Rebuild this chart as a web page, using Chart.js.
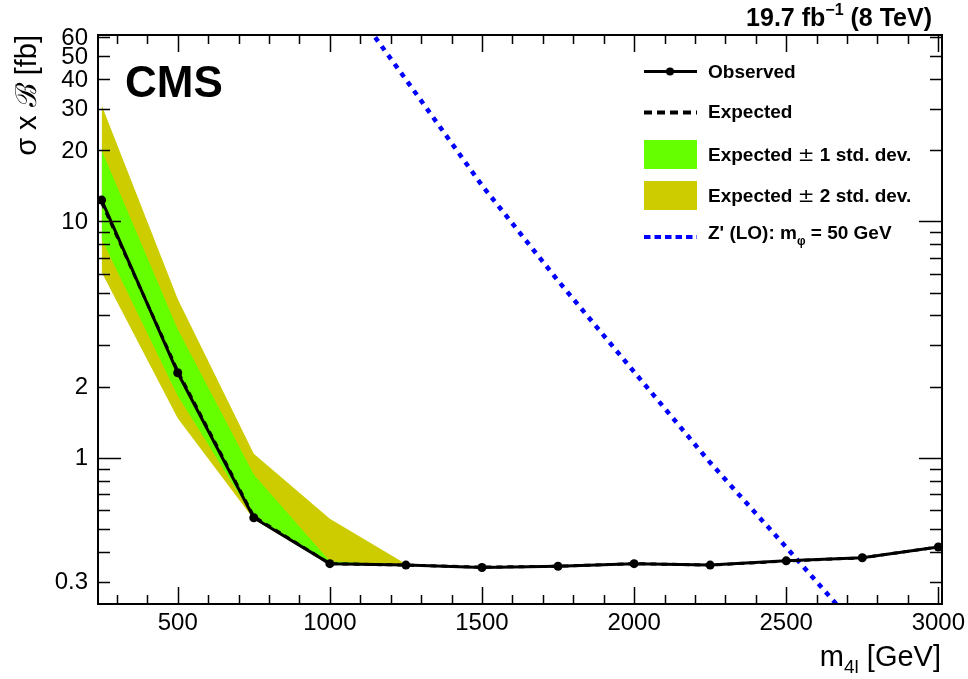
<!DOCTYPE html>
<html>
<head>
<meta charset="utf-8">
<script src="https://cdn.jsdelivr.net/npm/chart.js@4.4.1/dist/chart.umd.min.js"></script>
<style>
  html, body { margin: 0; padding: 0; background: #fff; }
  #wrap { width: 968px; height: 679px; }
</style>
</head>
<body>
<div id="wrap"><canvas id="limit-chart" width="968" height="679"></canvas></div>
<script>
// mass points [GeV]
var masses = [250, 500, 750, 1000, 1250, 1500, 1750, 2000, 2250, 2500, 2750, 3000];
var observed = [12.3, 2.29, 0.558, 0.357, 0.352, 0.344, 0.348, 0.357, 0.352, 0.367, 0.378, 0.42];
var expected = [12.0, 2.33, 0.565, 0.357, 0.352, 0.345, 0.348, 0.357, 0.352, 0.366, 0.378, 0.42];
var band1_lo = [8.4, 1.83, 0.56, 0.355, 0.352, 0.345, 0.348, 0.357, 0.352, 0.366, 0.378, 0.42];
var band1_hi = [20.0, 3.5, 0.85, 0.365, 0.352, 0.345, 0.348, 0.357, 0.352, 0.366, 0.378, 0.42];
var band2_lo = [6.1, 1.47, 0.55, 0.352, 0.352, 0.345, 0.348, 0.357, 0.352, 0.366, 0.378, 0.42];
var band2_hi = [31.0, 4.7, 1.04, 0.553, 0.356, 0.345, 0.348, 0.357, 0.352, 0.366, 0.378, 0.42];
// Z' (LO) m_phi = 50 GeV theory curve
var zprime_mass = [1000, 1250, 1500, 1750, 2000, 2250, 2500, 2750];
var zprime_xsec = [110, 39.8, 14.2, 5.61, 2.31, 0.955, 0.419, 0.181];

var x_tick_labels = [500, 1000, 1500, 2000, 2500, 3000];
var y_tick_labels = [0.3, 1, 2, 10, 20, 30, 40, 50, 60];

const GREEN = 'rgb(102, 255, 0)';
const YELLOW = 'rgb(204, 204, 0)';
const BLUE = 'rgb(0, 0, 255)';
const FONT = '"Liberation Sans", Arial, Helvetica, sans-serif';

function pts(xs, ys) {
  return xs.map(function (m, i) { return { x: m, y: ys[i] }; });
}

function band(data, fill, color, order) {
  return {
    data: data, fill: fill, backgroundColor: color, borderWidth: 0,
    pointRadius: 0, tension: 0, order: order
  };
}

// draws pieces of text with own font / vertical shift, one after another
function richText(ctx, parts, x, y, align) {
  var w = 0;
  parts.forEach(function (p) { ctx.font = p.font; w += ctx.measureText(p.t).width; });
  var cx = align === 'right' ? x - w : x;
  ctx.textAlign = 'left';
  ctx.textBaseline = 'alphabetic';
  parts.forEach(function (p) {
    ctx.font = p.font;
    ctx.fillText(p.t, cx, y + (p.dy || 0));
    cx += ctx.measureText(p.t).width;
  });
}

const rootFrame = {
  id: 'rootFrame',
  afterDraw(chart) {
    const ctx = chart.ctx;
    const a = chart.chartArea;
    const xs = chart.scales.x, ys = chart.scales.y;
    ctx.save();
    ctx.strokeStyle = '#000';
    ctx.fillStyle = '#000';
    ctx.lineWidth = 2;
    ctx.strokeRect(a.left, a.top, a.right - a.left, a.bottom - a.top);

    // x ticks, inward, bottom and top
    ctx.lineWidth = 1.5;
    ctx.beginPath();
    for (let m = 300; m <= 3000; m += 100) {
      const px = Math.round(xs.getPixelForValue(m)) + 0.5;
      const len = m % 500 === 0 ? 17 : 9;
      ctx.moveTo(px, a.bottom); ctx.lineTo(px, a.bottom - len);
      ctx.moveTo(px, a.top); ctx.lineTo(px, a.top + len);
    }
    // y ticks, log
    for (let d = -1; d <= 1; d++) {
      for (let k = 1; k <= 9; k++) {
        const v = k * Math.pow(10, d);
        if (v < ys.min || v > ys.max) continue;
        const py = Math.round(ys.getPixelForValue(v)) + 0.5;
        const len = k === 1 ? 23 : 12;
        ctx.moveTo(a.left, py); ctx.lineTo(a.left + len, py);
        ctx.moveTo(a.right, py); ctx.lineTo(a.right - len, py);
      }
    }
    ctx.stroke();

    // tick labels
    ctx.font = '24px ' + FONT;
    ctx.textAlign = 'center';
    ctx.textBaseline = 'alphabetic';
    x_tick_labels.forEach(function (m) {
      ctx.fillText(String(m), xs.getPixelForValue(m), 630);
    });
    ctx.textAlign = 'right';
    ctx.textBaseline = 'middle';
    y_tick_labels.forEach(function (v) {
      ctx.fillText(String(v), 88, ys.getPixelForValue(v) + 1);
    });

    // axis titles
    richText(ctx, [
      { t: 'm', font: '29px ' + FONT },
      { t: '4l', font: '19px ' + FONT, dy: 7 },
      { t: ' [GeV]', font: '29px ' + FONT }
    ], 941, 666, 'right');

    ctx.save();
    ctx.translate(36, 35);
    ctx.rotate(-Math.PI / 2);
    richText(ctx, [
      { t: '\u03c3 x ', font: '29px ' + FONT },
      { t: '\u212c', font: '29px "DejaVu Serif", serif' },
      { t: ' [fb]', font: '29px ' + FONT }
    ], 0, 0, 'right');
    ctx.restore();

    // CMS + lumi
    ctx.font = 'bold 44px ' + FONT;
    ctx.textAlign = 'left';
    ctx.textBaseline = 'alphabetic';
    ctx.fillText('CMS', 125, 97);
    richText(ctx, [
      { t: '19.7 fb', font: 'bold 25px ' + FONT },
      { t: '\u22121', font: 'bold 16px ' + FONT, dy: -11 },
      { t: ' (8 TeV)', font: 'bold 25px ' + FONT }
    ], 932, 26, 'right');

    // legend
    const lx0 = 644, lx1 = 697, tx = 708;
    const lf = 'bold 19px ' + FONT;
    const pm = '20px "DejaVu Sans", sans-serif';
    // observed
    ctx.lineWidth = 3; ctx.setLineDash([]);
    ctx.beginPath(); ctx.moveTo(lx0, 71.5); ctx.lineTo(lx1, 71.5); ctx.stroke();
    ctx.beginPath(); ctx.arc(670, 71.5, 4, 0, Math.PI * 2); ctx.fill();
    richText(ctx, [{ t: 'Observed', font: lf }], tx, 78, 'left');
    // expected
    ctx.lineWidth = 4; ctx.setLineDash([8, 5]);
    ctx.beginPath(); ctx.moveTo(lx0, 112.5); ctx.lineTo(lx1, 112.5); ctx.stroke();
    richText(ctx, [{ t: 'Expected', font: lf }], tx, 118, 'left');
    // bands
    ctx.setLineDash([]);
    ctx.fillStyle = GREEN; ctx.fillRect(lx0, 140, lx1 - lx0, 29);
    ctx.fillStyle = YELLOW; ctx.fillRect(lx0, 181, lx1 - lx0, 29);
    ctx.fillStyle = '#000';
    richText(ctx, [
      { t: 'Expected ', font: lf }, { t: '\u00b1', font: pm }, { t: ' 1 std. dev.', font: lf }
    ], tx, 161, 'left');
    richText(ctx, [
      { t: 'Expected ', font: lf }, { t: '\u00b1', font: pm }, { t: ' 2 std. dev.', font: lf }
    ], tx, 202, 'left');
    // Z'
    ctx.strokeStyle = BLUE; ctx.lineWidth = 4; ctx.setLineDash([6.5, 4]);
    ctx.beginPath(); ctx.moveTo(lx0, 237); ctx.lineTo(lx1, 237); ctx.stroke();
    ctx.setLineDash([]);
    richText(ctx, [
      { t: "Z' (LO): m", font: lf },
      { t: '\u03c6', font: 'bold 12px ' + FONT, dy: 6 },
      { t: ' = 50 GeV', font: lf }
    ], tx, 239, 'left');
    ctx.restore();
  }
};

const limit_data = {
  datasets: [
    band(pts(masses, band2_lo), false, YELLOW, 10),
    band(pts(masses, band2_hi), '-1', YELLOW, 9),
    band(pts(masses, band1_lo), false, GREEN, 8),
    band(pts(masses, band1_hi), '-1', GREEN, 7),
    {
      label: "Z' (LO)",
      data: pts(zprime_mass, zprime_xsec),
      borderColor: BLUE, borderWidth: 4.5, borderDash: [5, 6],
      pointRadius: 0, fill: false, tension: 0, order: 3
    },
    {
      label: 'Expected',
      data: pts(masses, expected),
      borderColor: '#000', borderWidth: 3, borderDash: [6, 5],
      pointRadius: 0, fill: false, tension: 0, order: 2
    },
    {
      label: 'Observed',
      data: pts(masses, observed),
      borderColor: '#000', backgroundColor: '#000', borderWidth: 3,
      pointRadius: 4.5, pointBorderWidth: 0, fill: false, tension: 0, order: 1
    }
  ]
};

const limit_config = {
  type: 'line',
  data: limit_data,
  options: {
    responsive: false,
    animation: false,
    layout: { padding: { left: 0, right: 26, top: 35, bottom: 0 } },
    plugins: { legend: { display: false }, tooltip: { enabled: false } },
    scales: {
      x: {
        type: 'linear', min: 238, max: 3012,
        grid: { display: false, drawTicks: false },
        border: { display: false },
        ticks: { display: false },
        afterFit: function (s) { s.height = 75; }
      },
      y: {
        type: 'logarithmic', min: 0.241, max: 61.4,
        grid: { display: false, drawTicks: false },
        border: { display: false },
        ticks: { display: false },
        afterFit: function (s) { s.width = 98; }
      }
    }
  },
  plugins: [rootFrame]
};

const limit_chart = new Chart(document.getElementById('limit-chart'), limit_config);
</script>
</body>
</html>
